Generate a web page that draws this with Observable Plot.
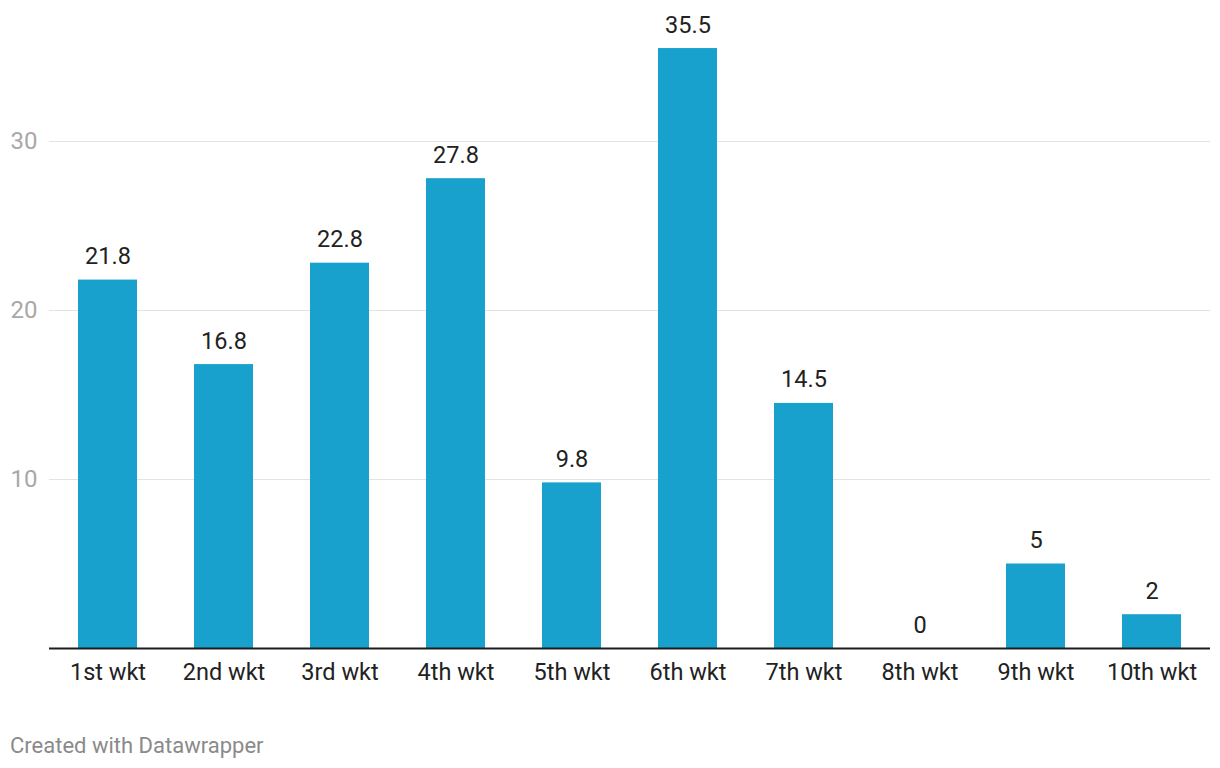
<!DOCTYPE html>
<html>
<head>
<meta charset="utf-8">
<script src="https://cdn.jsdelivr.net/npm/d3@7"></script>
<script src="https://cdn.jsdelivr.net/npm/@observablehq/plot@0.6"></script>
<style>
  body { margin: 0; background: #fff; font-family: Roboto, "Noto Sans", sans-serif; }
  #chart svg { display: block; }
  .footer { position: absolute; left: 10px; top: 733px; font-size: 22px; color: #8a8a8a; font-family: Roboto, sans-serif; }
</style>
</head>
<body>
<div id="chart"></div>
<div class="footer">Created with Datawrapper</div>
<script>
const categories = ["1st wkt", "2nd wkt", "3rd wkt", "4th wkt", "5th wkt", "6th wkt", "7th wkt", "8th wkt", "9th wkt", "10th wkt"];
const values = [21.8, 16.8, 22.8, 27.8, 9.8, 35.5, 14.5, 0, 5, 2];
const yTicks = [10, 20, 30];

const data = categories.map((c, i) => ({ category: c, value: values[i] }));

const chart = Plot.plot({
  width: 1220,
  height: 700,
  marginLeft: 49,
  marginRight: 10,
  marginTop: 0,
  marginBottom: 52,
  style: { fontFamily: "Roboto, sans-serif", background: "#fff" },
  x: { domain: categories, paddingInner: 0.49, paddingOuter: 0.245, label: null },
  y: { domain: [0, 36], range: [648, 648 - 16.9 * 36], label: null },
  marks: [
    Plot.gridY(yTicks, { stroke: "#e3e3e3", strokeOpacity: 1, strokeWidth: 1 }),
    Plot.axisY(yTicks, { tickSize: 0, tickPadding: 0, textAnchor: "start", dx: -39, fontSize: 24, color: "#a8a8a8", label: null }),
    Plot.barY(data, { x: "category", y: "value", fill: "#18a1cd" }),
    Plot.text(data, { x: "category", y: "value", text: d => String(d.value), lineAnchor: "bottom", dy: -16, fontSize: 23.5, fill: "#222" }),
    Plot.ruleY([0], { stroke: "#1d1d1d", strokeWidth: 2 }),
    Plot.axisX({ tickSize: 0, tickPadding: 15, fontSize: 23.5, color: "#222", label: null })
  ]
});
document.getElementById("chart").append(chart);
</script>
</body>
</html>
